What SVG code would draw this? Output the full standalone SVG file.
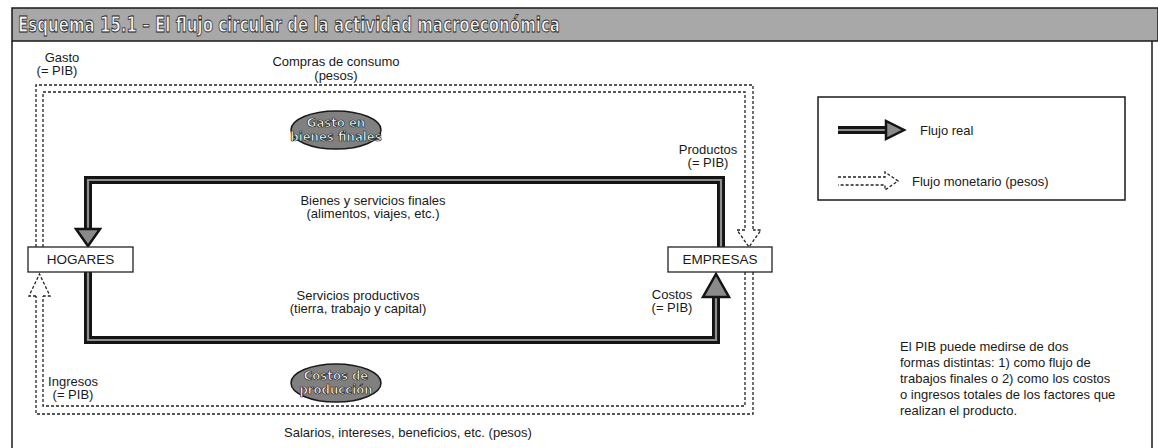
<svg xmlns="http://www.w3.org/2000/svg" width="1158" height="448" viewBox="0 0 1158 448">
<defs>
<style>
.t{font-family:"Liberation Sans",Arial,sans-serif;font-size:13px;fill:#1a1a1a}
.box{fill:#fff;stroke:#222;stroke-width:1.3}
.ro{fill:none;stroke:#141414;stroke-width:8}
.ri{fill:none;stroke:#8e8e8e;stroke-width:2.2}
.rh{fill:#8a8a8a;stroke:#141414;stroke-width:2.5;stroke-linejoin:miter}
.m{fill:none;stroke:#222;stroke-width:1.3;stroke-dasharray:3 2}
.ell{fill:#808080;stroke:#1a1a1a;stroke-width:1.5}
.et{font-family:"DejaVu Sans Condensed","DejaVu Sans",sans-serif;font-weight:bold;font-size:13px;fill:#fff;stroke:#222;stroke-width:0.7;text-anchor:middle}
</style>
</defs>
<rect x="0" y="0" width="1158" height="448" fill="#fff"/>
<g id="frame">
<rect x="12" y="8" width="1146" height="33" fill="#a8a8a8" stroke="#1a1a1a" stroke-width="1.5"/>
<text x="18" y="32" textLength="542" lengthAdjust="spacingAndGlyphs" style="font-family:'DejaVu Sans Condensed','DejaVu Sans',sans-serif;font-weight:bold;font-size:21px;fill:#f4f4f4;stroke:#222;stroke-width:0.8">Esquema 15.1 – El flujo circular de la actividad macroeconómica</text>
<line x1="12" y1="41" x2="12" y2="448" stroke="#1a1a1a" stroke-width="1.5"/>
<line x1="1152" y1="41" x2="1152" y2="448" stroke="#1a1a1a" stroke-width="1.5"/>
</g>
<g id="connectors">
<path class="m" d="M36 247V85H753V230"/>
<path class="m" d="M43 247V92H745V230"/>
<path class="m" d="M745 230H737L749 247L761 230H753"/>
<path class="m" d="M753 272V414H36V296"/>
<path class="m" d="M745 272V406H43V296"/>
<path class="m" d="M36 296H29L39.5 274L50 296H43"/>
<path class="ro" d="M721 247V180H88V229"/>
<path class="ri" d="M721 247V180H88V229"/>
<polygon class="rh" points="76,229 100,229 88,246"/>
<path class="ro" d="M88 272V340H716V297"/>
<path class="ri" d="M88 272V340H716V297"/>
<polygon class="rh" points="703,297 729,297 716,274"/>
</g>
<g id="hogares">
<rect class="box" x="28" y="247" width="105" height="25"/>
<text class="t" x="80.5" y="264" text-anchor="middle" style="font-size:13.5px">HOGARES</text>
</g>
<g id="empresas">
<rect class="box" x="668" y="247" width="104" height="25"/>
<text class="t" x="720" y="264" text-anchor="middle" style="font-size:13.5px">EMPRESAS</text>
</g>
<g id="gasto-bienes">
<ellipse class="ell" cx="336" cy="130" rx="45" ry="19"/>
<text class="et" x="336" y="127">Gasto en</text>
<text class="et" x="336" y="141">bienes finales</text>
</g>
<g id="costos-produccion">
<ellipse class="ell" cx="336" cy="383" rx="45" ry="19"/>
<text class="et" x="336" y="380">Costos de</text>
<text class="et" x="336" y="394">producción</text>
</g>
<g id="labels">
<text class="t" x="62" y="62" text-anchor="middle">Gasto</text>
<text class="t" x="57" y="75" text-anchor="middle">(= PIB)</text>
<text class="t" x="336" y="66" text-anchor="middle">Compras de consumo</text>
<text class="t" x="336" y="80" text-anchor="middle">(pesos)</text>
<text class="t" x="708" y="154" text-anchor="middle">Productos</text>
<text class="t" x="708" y="167" text-anchor="middle">(= PIB)</text>
<text class="t" x="373" y="205" text-anchor="middle">Bienes y servicios finales</text>
<text class="t" x="373" y="218" text-anchor="middle">(alimentos, viajes, etc.)</text>
<text class="t" x="358" y="300" text-anchor="middle">Servicios productivos</text>
<text class="t" x="358" y="313" text-anchor="middle">(tierra, trabajo y capital)</text>
<text class="t" x="672" y="299" text-anchor="middle">Costos</text>
<text class="t" x="672" y="312" text-anchor="middle">(= PIB)</text>
<text class="t" x="73" y="386" text-anchor="middle">Ingresos</text>
<text class="t" x="73" y="399" text-anchor="middle">(= PIB)</text>
<text class="t" x="408" y="437" text-anchor="middle">Salarios, intereses, beneficios, etc. (pesos)</text>
</g>
<g id="legend">
<rect x="818" y="97" width="307" height="103" fill="#fff" stroke="#1a1a1a" stroke-width="1.5"/>
<path class="ro" d="M838 130H888"/>
<path class="ri" d="M838 130H888"/>
<polygon class="rh" points="886,121 886,139 904,130"/>
<text class="t" x="920" y="135">Flujo real</text>
<path class="m" d="M838 177H885V172L898 181L885 190V185H838"/>
<text class="t" x="912" y="186">Flujo monetario (pesos)</text>
</g>
<g id="note">
<text class="t" x="900" y="351">El PIB puede medirse de dos</text>
<text class="t" x="900" y="367">formas distintas: 1) como flujo de</text>
<text class="t" x="900" y="383">trabajos finales o 2) como los costos</text>
<text class="t" x="900" y="399">o ingresos totales de los factores que</text>
<text class="t" x="900" y="415">realizan el producto.</text>
</g>
</svg>
